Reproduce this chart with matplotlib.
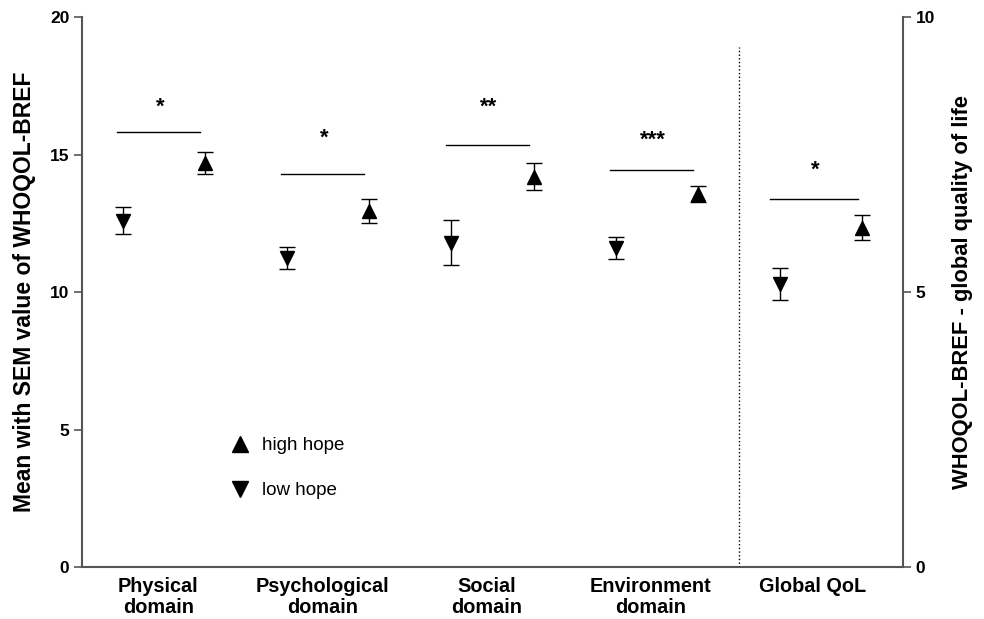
import numpy as np
import matplotlib
matplotlib.use('Agg')
import matplotlib.pyplot as plt
from matplotlib.lines import Line2D

plt.rcParams['font.family'] = ['Liberation Sans', 'DejaVu Sans']

# Data
domains = ['Physical\ndomain', 'Psychological\ndomain', 'Social\ndomain', 'Environment\ndomain']
low_mean = [12.6, 11.25, 11.8, 11.6]
low_sem = [0.5, 0.4, 0.82, 0.4]
high_mean = [14.7, 12.95, 14.2, 13.57]
high_sem = [0.4, 0.45, 0.5, 0.3]
sig_labels = ['*', '*', '**', '***']
sig_line_y = [15.82, 14.29, 15.35, 14.44]
sig_star_y = [16.73, 15.6, 16.73, 15.53]

# Global QoL on the right axis (0-10)
global_label = 'Global QoL'
global_low_mean = 5.15
global_low_sem = 0.29
global_high_mean = 6.17
global_high_sem = 0.23
global_sig = '*'
global_line_y = 6.69
global_star_y = 7.22

spine_col = '#555555'

fig = plt.figure(figsize=(9.84, 6.19), dpi=100)
ax = fig.add_axes([0.0833, 0.084, 0.8344, 0.8885])
ax2 = ax.twinx()

# positions: low/high pairs
n = len(domains)
x_low = np.arange(n) * 2 + 1
x_high = x_low + 1
gx_low = 2 * n + 1
gx_high = gx_low + 1

ebkw = dict(ls='none', color='black', ecolor='black', elinewidth=1.0,
            capsize=6, capthick=1.0, markersize=10)

ax.errorbar(x_low, low_mean, yerr=low_sem, marker='v', **ebkw)
ax.errorbar(x_high, high_mean, yerr=high_sem, marker='^', **ebkw)
ax2.errorbar([gx_low], [global_low_mean], yerr=[global_low_sem], marker='v', **ebkw)
ax2.errorbar([gx_high], [global_high_mean], yerr=[global_high_sem], marker='^', **ebkw)

# significance bars
for i in range(n):
    ax.plot([x_low[i] - 0.07, x_high[i] - 0.06], [sig_line_y[i]] * 2, color='black', lw=1.0)
    ax.text((x_low[i] + x_high[i]) / 2 - 0.05, sig_star_y[i], sig_labels[i],
            ha='center', va='center', fontsize=16, fontweight='bold')
ax2.plot([gx_low - 0.12, gx_high - 0.05], [global_line_y] * 2, color='black', lw=1.0)
ax2.text((gx_low + gx_high) / 2 - 0.07, global_star_y, global_sig,
         ha='center', va='center', fontsize=16, fontweight='bold')

# dotted separator
ax.axvline(2 * n + 0.5, ymin=0, ymax=0.945, color='black', ls=':', lw=1.0)

# axes setup
ax.set_xlim(0.5, 2 * n + 2.5)
ax.set_ylim(0, 20)
ax2.set_ylim(0, 10)
ax.set_yticks([0, 5, 10, 15, 20])
ax2.set_yticks([0, 5, 10])

tick_pos = list((x_low + x_high) / 2 - 0.07) + [(gx_low + gx_high) / 2 - 0.1]
ax.set_xticks(tick_pos)
ax.set_xticklabels(domains + [global_label], fontsize=14.3, fontweight='bold', linespacing=1.15)
ax.tick_params(axis='x', length=0, pad=7)
ax.tick_params(axis='y', direction='out', length=6, width=1.2, color=spine_col, labelsize=12.5, pad=3)
ax2.tick_params(axis='y', direction='out', length=6, width=1.2, color=spine_col, labelsize=12.5, pad=3)
for lab in ax.get_yticklabels() + ax2.get_yticklabels():
    lab.set_fontweight('bold')

for a in (ax, ax2):
    a.spines['top'].set_visible(False)
    for s in ('left', 'right', 'bottom'):
        a.spines[s].set_color(spine_col)
        a.spines[s].set_linewidth(1.5)
ax.spines['right'].set_visible(False)
ax2.spines['left'].set_visible(False)
ax2.spines['bottom'].set_visible(False)

ax.set_ylabel('Mean with SEM value of WHOQOL-BREF', fontsize=16.5, fontweight='bold', labelpad=10)
ax2.set_ylabel('WHOQOL-BREF - global quality of life', fontsize=15.8, fontweight='bold',
               rotation=90, labelpad=12)

# legend
handles = [Line2D([], [], ls='none', marker='^', color='black', markersize=11),
           Line2D([], [], ls='none', marker='v', color='black', markersize=11)]
ax.legend(handles, ['high hope', 'low hope'], frameon=False, loc='upper left',
          bbox_to_anchor=(0.16, 0.267), fontsize=13.5, handlelength=1.0,
          handletextpad=0.7, labelspacing=1.5, numpoints=1)

plt.savefig('out.png', dpi=100)
plt.close()
